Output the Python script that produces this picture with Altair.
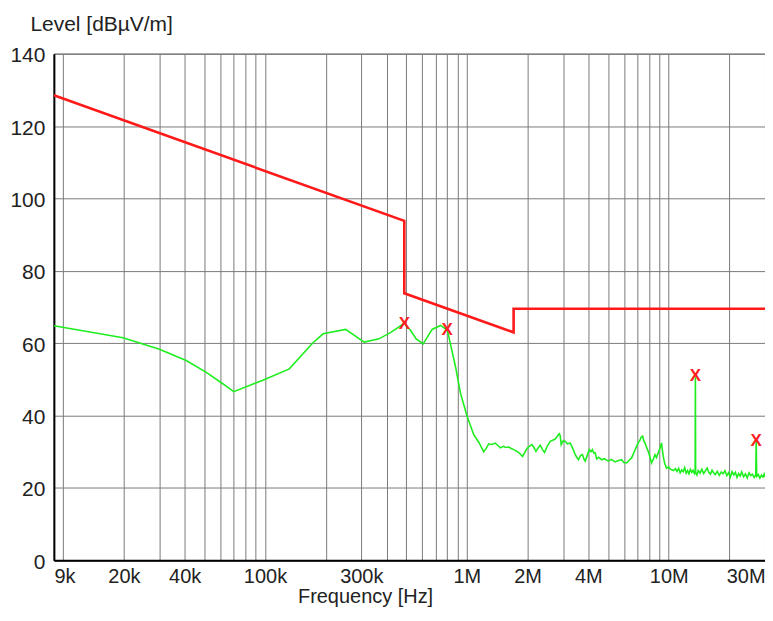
import altair as alt
import pandas as pd

# ---- data (frequency in kHz, level in dBuV/m) ----
trace_freq_khz = [
    9, 19.8, 30, 40.7, 51, 61.8, 70, 97, 132, 172, 194, 251, 310, 367, 420, 490,
    527, 561, 608, 673, 741, 800, 821, 879, 930, 1003, 1082, 1150, 1212,
    1250, 1284, 1330, 1385, 1420, 1466, 1520, 1560, 1612, 1660, 1710, 1771, 1830,
    1890, 1930, 1985, 2040, 2101, 2150, 2199, 2250, 2311, 2370, 2427, 2500, 2589,
    2660, 2740, 2800, 2868, 2900, 2934, 3000, 3072, 3150, 3252, 3330, 3415, 3490,
    3574, 3650, 3740, 3800, 3857, 3950, 4036, 4120, 4190, 4250, 4321, 4401, 4500,
    4658, 4800, 5026, 5200, 5423, 5600, 5846, 6000, 6189, 6350, 6552, 6750, 6936,
    7050, 7208, 7300, 7426, 7530, 7631, 7800, 7924, 8080, 8227, 8400, 8551, 8700,
    8878, 9050, 9218, 9300, 9398, 9550, 9758, 10000, 10200, 10531,
    10800, 11000, 11200, 11400, 11600, 11800, 12000, 12200, 12400, 12600, 12800,
    13000, 13200, 13400, 13520, 13560, 13600, 13800, 14000, 14300, 14600, 14900,
    15200, 15500, 15800, 16100, 16400, 16700, 17000, 17400, 17800, 18200, 18600,
    19000, 19400, 19800, 20200, 20600, 21000, 21400, 21800, 22200, 22600, 23000,
    23500, 24000, 24500, 25000, 25500, 26000, 26500, 27000, 27120, 27300, 27800,
    28300, 28800, 29300, 29700, 30000,
]
trace_level = [
    64.8, 61.5, 58.3, 55.2, 52.0, 48.8, 46.6, 49.7, 52.9, 60.0, 62.6, 63.8, 60.3, 61.2, 63.0, 65.5,
    63.5, 61.2, 59.8, 63.8, 64.9, 63.6, 60.9, 53.5, 46.2, 39.8, 34.7, 32.5, 30.0,
    31.0, 32.2, 32.0, 32.4, 31.8, 31.1, 31.5, 31.2, 31.3, 30.9, 30.6, 30.1, 29.5,
    28.7, 29.6, 30.9, 31.5, 32.0, 31.2, 30.1, 31.0, 31.8, 30.6, 29.8, 31.5, 32.9,
    33.2, 33.5, 34.2, 35.0, 34.5, 32.0, 33.0, 32.9, 32.2, 32.4, 31.2, 29.7, 28.6,
    27.8, 28.9, 29.2, 28.0, 27.4, 29.0, 30.6, 30.0, 30.6, 29.7, 29.7, 28.0, 28.5,
    27.8, 28.1, 27.4, 27.9, 27.2, 27.5, 27.8, 27.0, 26.9, 27.6, 28.3, 30.0, 31.5,
    32.4, 33.2, 34.0, 34.3, 33.0, 32.4, 31.0, 30.1, 28.5, 26.9, 28.0, 29.2, 28.4,
    29.7, 31.0, 32.4, 30.5, 28.7, 26.8, 25.5, 25.8, 25.2, 24.8,
    25.3, 24.6, 25.4, 24.2, 25.0, 24.5, 25.6, 24.1, 24.8, 23.9, 25.1,
    24.3, 24.9, 24.0, 24.6, 50.8, 24.2, 23.6, 24.8, 24.1, 25.2, 24.0,
    24.7, 25.5, 24.3, 23.8, 24.9, 24.2, 23.7, 24.6, 23.5, 24.4, 23.9,
    24.8, 23.4, 24.2, 23.0, 24.5, 23.6, 24.3, 22.9, 24.0, 23.3, 24.4,
    23.1, 23.9, 22.8, 24.2, 23.4, 23.8, 22.9, 23.6, 33.3, 23.2, 23.7,
    22.7, 23.5, 23.0, 23.8, 23.0,
]

limit_freq_khz = [9, 490, 490, 1705, 1705, 30000]
limit_level = [128.5, 93.8, 73.8, 63.0, 69.5, 69.5]

peak_freq_khz = [490, 800, 13560, 27120]
peak_level = [65.4, 63.6, 50.8, 33.1]

x_grid_hz = [9000] + [m * 10 ** e for e in (4, 5, 6) for m in range(1, 10)] + [10000000, 20000000, 30000000]
x_label_hz = [9000, 20000, 40000, 100000, 300000, 1000000, 2000000, 4000000, 10000000, 30000000]
y_ticks = [0, 20, 40, 60, 80, 100, 120, 140]

# ---- tables ----
trace = pd.DataFrame({"f": [v * 1000 for v in trace_freq_khz], "level": trace_level,
                      "i": range(len(trace_level))})
limit = pd.DataFrame({"f": [v * 1000 for v in limit_freq_khz], "level": limit_level,
                      "i": range(len(limit_level))})
peaks = pd.DataFrame({"f": [v * 1000 for v in peak_freq_khz], "level": peak_level})

FONT = "Liberation Sans"
label_list = ",".join(str(v) for v in x_label_hz)
label_expr = (f"indexof([{label_list}], datum.value) < 0 ? '' : "
              "(datum.value < 1000000 ? (datum.value/1000) + 'k' : (datum.value/1000000) + 'M')")

x_enc = alt.X(
    "f:Q",
    scale=alt.Scale(type="log", domain=[9000, 30000000], nice=False),
    axis=alt.Axis(
        values=x_grid_hz, labelExpr=label_expr, grid=True, gridColor="#7a7a7a", gridWidth=1,
        ticks=False, domainColor="#000000", domainWidth=2,
        labelFont=FONT, labelFontSize=20, labelColor="#222222", labelPadding=6,
        labelFlush=True, labelOverlap=False, labelBound=False,
        title="Frequency [Hz]", titleFont=FONT, titleFontSize=20, titleFontWeight="normal",
        titleColor="#222222", titleX=312, titleY=42, titleAlign="center",
        titleBaseline="alphabetic",
    ),
)
y_enc = alt.Y(
    "level:Q",
    scale=alt.Scale(domain=[0, 140], nice=False, zero=True),
    axis=alt.Axis(
        values=y_ticks, grid=True, gridColor="#7a7a7a", gridWidth=1, ticks=False,
        domainColor="#000000", domainWidth=2,
        labelFont=FONT, labelFontSize=21, labelColor="#222222", labelPadding=9,
        labelOffset=2, labelBaseline="middle",
        title="Level [dBµV/m]", titleFont=FONT, titleFontSize=21, titleFontWeight="normal",
        titleColor="#222222", titleAngle=0, titleAlign="left", titleBaseline="alphabetic",
        titleX=-24, titleY=-23,
    ),
)

green = alt.Chart(trace).mark_line(color="#1eee1e", strokeWidth=1.6, clip=True).encode(
    x=x_enc, y=y_enc, order="i:Q")
red = alt.Chart(limit).mark_line(color="#ff1a1a", strokeWidth=2.6, clip=True).encode(
    x="f:Q", y="level:Q", order="i:Q")
marks = alt.Chart(peaks).mark_text(text="X", color="#ff2020", fontSize=17, font=FONT,
                                   fontWeight="bold", baseline="middle", align="center").encode(
    x="f:Q", y="level:Q")

chart = alt.layer(green, red, marks).properties(
    width=713, height=508,
    autosize=alt.AutoSizeParams(type="none"),
    padding={"left": 46, "top": 45, "right": 0, "bottom": 47},
    background="white",
).configure_view(stroke="#555555", strokeWidth=1)

chart.save("out.html", embed_options={"renderer": "svg", "actions": False})
